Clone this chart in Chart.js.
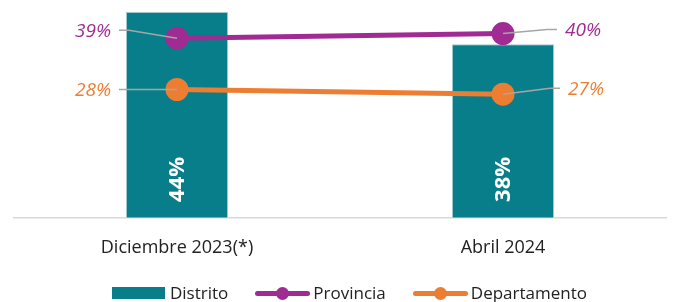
<!DOCTYPE html>
<html>
<head>
<meta charset="utf-8">
<script src="https://cdn.jsdelivr.net/npm/chart.js@4"></script>
<style>
  body { margin: 0; background: #fff; }
  #wrap { position: relative; width: 675px; height: 302px; }
  #legend { position: absolute; left: 0; top: 282px; width: 651px; padding-left: 24px; height: 22px; line-height: 22px; display: flex; justify-content: center; font-family: 'Open Sans', sans-serif; font-size: 17px; color: #222; }
  .item { display: flex; align-items: center; margin-right: 27px; }
  .item:last-child { margin-right: 0; }
  .box { width: 53px; height: 12px; background: #077E89; margin-right: 5px; }
  .ln { position: relative; width: 55px; height: 5px; border-radius: 3px; margin-right: 3px; }
  .ln span { position: absolute; left: 21px; top: -4px; width: 13px; height: 13px; border-radius: 50%; }
</style>
</head>
<body>
<div id="wrap">
  <canvas id="chart" width="675" height="302"></canvas>
  <div id="legend">
    <div class="item"><div class="box"></div>Distrito</div>
    <div class="item"><div class="ln" style="background:#A02B93"><span style="background:#A02B93"></span></div>Provincia</div>
    <div class="item"><div class="ln" style="background:#ED7D31"><span style="background:#ED7D31"></span></div>Departamento</div>
  </div>
</div>
<script>
const labels = ['Diciembre 2023(*)', 'Abril 2024'];
const distrito = [44, 38];
const provincia = [39, 40];
const departamento = [28, 27];

const teal = '#077E89';
const purple = '#A02B93';
const orange = '#ED7D31';

// label placement for the line values: [dx of text edge, dy of text] per point
const lineLabelOffsets = {
  1: [[-66, -8], [62, -4]],
  2: [[-66, 0], [65, -6]]
};

const valueLabels = {
  id: 'valueLabels',
  afterDatasetsDraw(chart) {
    const ctx = chart.ctx;
    const base = chart.chartArea.bottom;

    // rotated bar labels
    const barMeta = chart.getDatasetMeta(0);
    ctx.save();
    ctx.fillStyle = '#fff';
    ctx.font = 'bold 22px "Open Sans", sans-serif';
    ctx.textAlign = 'center';
    ctx.textBaseline = 'middle';
    barMeta.data.forEach((bar, i) => {
      ctx.save();
      ctx.translate(bar.x + 1, base - 38);
      ctx.rotate(-Math.PI / 2);
      ctx.fillText(distrito[i] + '%', 0, 0);
      ctx.restore();
    });
    ctx.restore();

    // line labels with leader lines
    [1, 2].forEach(di => {
      const meta = chart.getDatasetMeta(di);
      const ds = chart.data.datasets[di];
      meta.data.forEach((pt, i) => {
        const [dx, dy] = lineLabelOffsets[di][i];
        const ty = pt.y + dy;
        const sign = dx < 0 ? -1 : 1;
        const tx = pt.x + dx;
        ctx.save();
        ctx.strokeStyle = '#a6a6a6';
        ctx.lineWidth = 1.5;
        ctx.beginPath();
        ctx.moveTo(pt.x, pt.y);
        ctx.lineTo(tx - sign * 18, ty);
        ctx.lineTo(tx - sign * 8, ty);
        ctx.stroke();
        ctx.fillStyle = ds.borderColor;
        ctx.font = 'italic 19px "Open Sans", sans-serif';
        ctx.textBaseline = 'middle';
        ctx.textAlign = dx < 0 ? 'right' : 'left';
        ctx.fillText(ds.data[i] + '%', tx, ty + 1);
        ctx.restore();
      });
    });
  }
};

const ctx = document.getElementById('chart');

new Chart(ctx, {
  type: 'bar',
  data: {
    labels: labels,
    datasets: [
      {
        type: 'bar',
        label: 'Distrito',
        data: distrito,
        backgroundColor: teal,
        borderColor: '#9fc9cd',
        borderWidth: 1,
        categoryPercentage: 1,
        barPercentage: 0.313,
        yAxisID: 'y',
        order: 2
      },
      {
        type: 'line',
        label: 'Provincia',
        data: provincia,
        borderColor: purple,
        backgroundColor: purple,
        borderWidth: 5,
        pointRadius: 9,
        pointHoverRadius: 9,
        clip: false,
        yAxisID: 'y1',
        order: 1
      },
      {
        type: 'line',
        label: 'Departamento',
        data: departamento,
        borderColor: orange,
        backgroundColor: orange,
        borderWidth: 5,
        pointRadius: 9,
        pointHoverRadius: 9,
        clip: false,
        yAxisID: 'y1',
        order: 1
      }
    ]
  },
  options: {
    responsive: false,
    animation: false,
    layout: { autoPadding: false, padding: { left: 14, right: 9, top: 0, bottom: 31 } },
    plugins: {
      legend: { display: false },
      tooltip: { enabled: false }
    },
    scales: {
      x: {
        grid: { display: false },
        border: { display: true, color: '#d9d9d9', width: 1.5 },
        ticks: {
          color: '#222',
          font: { family: 'Open Sans', size: 18 },
          padding: 12
        }
      },
      y: { display: false, min: 5.75, max: 46.25 },
      y1: { display: false, min: 0.56, max: 47.2 }
    }
  },
  plugins: [valueLabels]
});
</script>
</body>
</html>
